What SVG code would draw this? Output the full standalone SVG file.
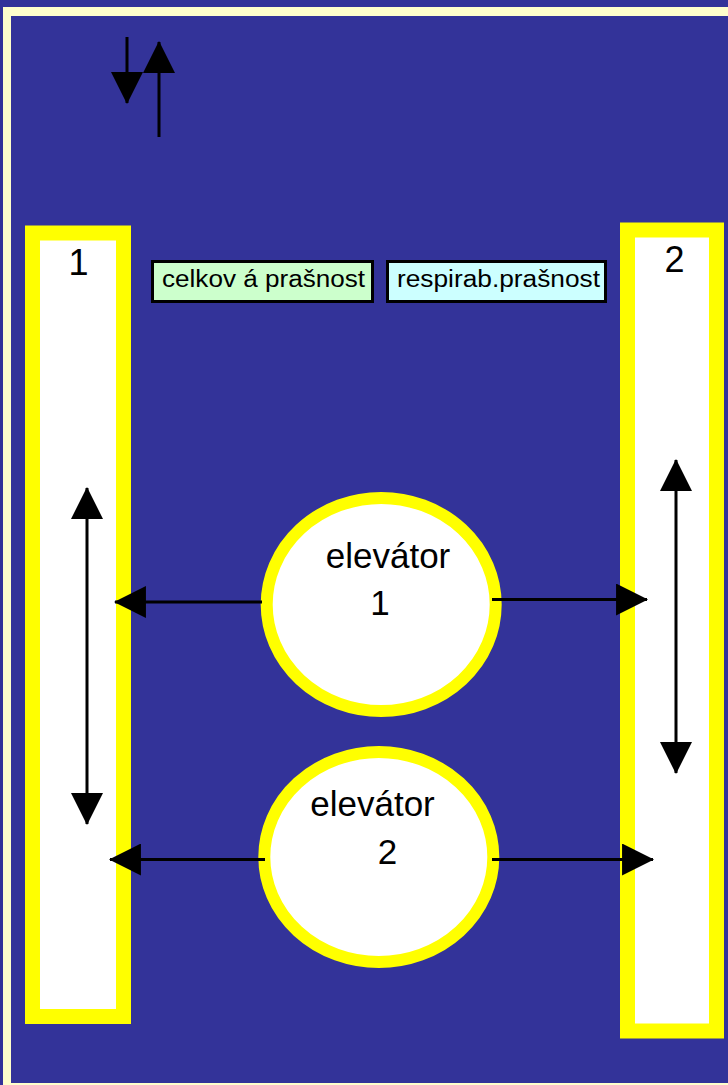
<svg xmlns="http://www.w3.org/2000/svg" width="728" height="1085" viewBox="0 0 728 1085">
<style>
.t{font-family:"Liberation Sans",Arial,sans-serif;fill:#000}
.big{font-size:36px}
.el{font-size:35px}
.leg{font-size:23px}
.col{fill:#FFFFFF;stroke:#FFFF00;stroke-width:15}
.elev{fill:#FFFFFF;stroke:#FFFF00;stroke-width:12}
.con{stroke:#000;stroke-width:3;fill:none}
</style>
<defs>
<marker id="ah" markerUnits="userSpaceOnUse" markerWidth="32" markerHeight="32" viewBox="0 0 31 31" refX="30" refY="15.5" orient="auto-start-reverse">
<path d="M0,0 L31,15.5 L0,31 Z" fill="#000"/>
</marker>
</defs>
<rect x="0" y="0" width="728" height="1085" fill="#333399"/>
<rect x="3" y="7" width="740" height="1090" fill="#FFFFCC"/>
<rect x="11" y="16" width="730" height="1067" fill="#333399"/>
<g id="column1">
<rect class="col" x="32.5" y="233" width="91" height="783.5"/>
<text class="t big" x="78.5" y="275" text-anchor="middle">1</text>
</g>
<g id="column2">
<rect class="col" x="627.5" y="230" width="89" height="801"/>
<text class="t big" x="674.5" y="272" text-anchor="middle">2</text>
</g>
<g id="legend-celkova">
<rect x="152.5" y="261.5" width="220" height="40" fill="#CCFFCC" stroke="#000" stroke-width="3"/>
<text class="t leg" x="162" y="287" textLength="203" lengthAdjust="spacingAndGlyphs">celkov á prašnost</text>
</g>
<g id="legend-respirab">
<rect x="387.5" y="261.5" width="218" height="40" fill="#CCFFFF" stroke="#000" stroke-width="3"/>
<text class="t leg" x="397" y="287" textLength="203" lengthAdjust="spacingAndGlyphs">respirab.prašnost</text>
</g>
<g id="elevator1">
<ellipse class="elev" cx="381.2" cy="604.5" rx="114.5" ry="106.5"/>
<text class="t el" x="388" y="568" text-anchor="middle">elevátor</text>
<text class="t el" x="380" y="615" text-anchor="middle">1</text>
</g>
<g id="elevator2">
<ellipse class="elev" cx="378.8" cy="857" rx="114.5" ry="105"/>
<text class="t el" x="372.5" y="816" text-anchor="middle">elevátor</text>
<text class="t el" x="387.5" y="864" text-anchor="middle">2</text>
</g>
<g id="connectors">
<line class="con" x1="127" y1="37" x2="127" y2="103" marker-end="url(#ah)"/>
<line class="con" x1="159" y1="137" x2="159" y2="42" marker-end="url(#ah)"/>
<line class="con" x1="87" y1="488" x2="87" y2="824" marker-start="url(#ah)" marker-end="url(#ah)"/>
<line class="con" x1="676" y1="460" x2="676" y2="773" marker-start="url(#ah)" marker-end="url(#ah)"/>
<line class="con" x1="262" y1="602" x2="115" y2="602" marker-end="url(#ah)"/>
<line class="con" x1="492" y1="599.5" x2="647" y2="599.5" marker-end="url(#ah)"/>
<line class="con" x1="265" y1="859.5" x2="110" y2="859.5" marker-end="url(#ah)"/>
<line class="con" x1="492" y1="859.5" x2="653" y2="859.5" marker-end="url(#ah)"/>
</g>
</svg>
